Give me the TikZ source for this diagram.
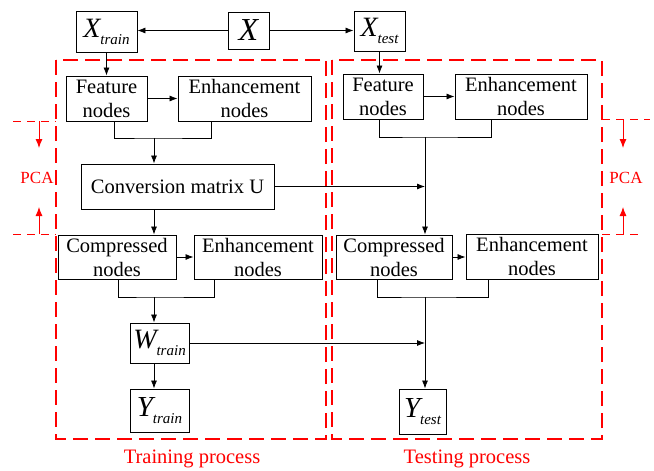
\documentclass[tikz,border=0pt]{standalone}
\usepackage{fontspec}
\setmainfont{Liberation Serif}
\usetikzlibrary{arrows.meta, calc}
\definecolor{procred}{HTML}{FF0000}
\definecolor{linecolor}{HTML}{000000}

% italic symbol with a lowered italic index
\newcommand{\symidx}[3]{{\fontsize{#1}{#1}\selectfont\itshape #2\raisebox{-7pt}{\fontsize{15}{15}\selectfont #3}}}

\begin{document}
\begin{tikzpicture}[
    x=1pt, y=-1pt,
    >={Latex[length=8pt,width=6pt]},
    line width=0.8pt,
    font=\rmfamily\fontsize{20.5}{24}\selectfont,
    block/.style={draw=linecolor, line width=0.9pt, align=center, inner sep=1pt, minimum width=#1, minimum height=45},
    block/.default=60,
    procbox/.style={draw=procred, line width=1.1pt, dash pattern=on 15pt off 7pt},
    pcaline/.style={draw=procred, line width=0.9pt, dash pattern=on 8pt off 6pt},
    pcaarrow/.style={draw=procred, fill=procred, line width=0.9pt, -{Latex[length=9pt,width=7pt]}},
    redlabel/.style={text=procred, inner sep=0pt}
]
    \useasboundingbox (0,0) rectangle (654,471);

    % Process frames
    \draw[procbox] (56,60) rectangle (326,439);
    \draw[procbox] (332,60) rectangle (602,439);
    \node[redlabel] (trainlab) at (192,459) {Training process};
    \node[redlabel] (testlab) at (467,459) {Testing process};

    % PCA marks
    \draw[pcaline] (13,121) -- (56,121);
    \draw[pcaline] (13,234) -- (56,234);
    \draw[pcaline] (602,119) -- (650,119);
    \draw[pcaline] (602,234) -- (642,234);
    \draw[pcaarrow] (39,121) -- (39,148);
    \draw[pcaarrow] (39,234) -- (39,207);
    \draw[pcaarrow] (623,119) -- (623,148);
    \draw[pcaarrow] (623,234) -- (623,207);
    \node[redlabel, font=\rmfamily\fontsize{17}{17}\selectfont] (pcaL) at (37,178) {PCA};
    \node[redlabel, font=\rmfamily\fontsize{17}{17}\selectfont] (pcaR) at (626,178) {PCA};

    % Data split
    \node[block=41, minimum height=37] (x) at (248.5,30.5) {\fontsize{32}{32}\selectfont\itshape X};
    \node[block=61, minimum height=41] (xtrain) at (106.5,31.5) {\symidx{28}{X}{train}};
    \node[block=51, minimum height=40] (xtest) at (379.5,31) {\symidx{28}{X}{test}};

    % Training side
    \node[block=81] (featL) at (106.5,98.5) {Feature\\nodes};
    \node[block=133] (enhL) at (244.5,98.5) {Enhancement\\nodes};
    \node[block=193] (conv) at (177.5,186.5) {Conversion matrix U};
    \node[block=118, minimum height=44] (compL) at (117,257) {Compressed\\nodes};
    \node[block=128, minimum height=44] (enhL2) at (258,257) {Enhancement\\nodes};
    \node[block=59, minimum height=40] (wtrain) at (159.5,343) {\symidx{28}{W}{train}};
    \node[block=59, minimum height=43] (ytrain) at (159.5,410.5) {\symidx{29}{Y}{train}};

    % Testing side
    \node[block=80] (featR) at (383,96.5) {Feature\\nodes};
    \node[block=132] (enhR) at (521,96.5) {Enhancement\\nodes};
    \node[block=116, minimum height=44] (compR) at (394,257) {Compressed\\nodes};
    \node[block=132] (enhR2) at (532,256.5) {Enhancement\\nodes};
    \node[block=47] (ytest) at (422.5,411.5) {\symidx{29}{Y}{test}};

    % Joints of the merged outputs
    \coordinate (jointL) at (154,138);
    \coordinate (jointR) at (425,137);
    \coordinate (jointL2) at (154,297);
    \coordinate (jointR2) at (425,297);

    % Split of X
    \draw[->] (x.west) -- (x.west -| xtrain.east);
    \draw[->] (x.east) -- (x.east -| xtest.west);
    \draw[->] (xtrain) -- (featL);
    \draw[->] (xtest.south) -- (xtest.south |- featR.north);

    % Training flow
    \draw[->] (featL) -- (enhL);
    \draw ([xshift=7.5pt]featL.south) |- (jointL) -| ([xshift=-33.5pt]enhL.south);
    \draw[->] (jointL) -- (jointL |- conv.north);
    \draw[->] (jointL |- conv.south) -- (jointL |- compL.north);
    \draw[->] (compL) -- (enhL2);
    \draw ([xshift=1pt]compL.south) |- (jointL2) -| ([xshift=-44pt]enhL2.south);
    \draw[->] (jointL2) -- (jointL2 |- wtrain.north);
    \draw[->] (jointL2 |- wtrain.south) -- (jointL2 |- ytrain.north);

    % Testing flow
    \draw[->] (featR) -- (enhR);
    \draw ([xshift=-4pt]featR.south) |- (jointR) -| ([xshift=-30pt]enhR.south);
    \draw[->] (jointR) -- (jointR |- compR.north);
    \draw[->] (conv.east) -- (conv.east -| jointR);
    \draw[->] (compR) -- (compR -| enhR2.west);
    \draw ([xshift=-17pt]compR.south) |- (jointR2) -| ([xshift=-44pt]enhR2.south);
    \draw[->] (jointR2) -- (jointR2 |- ytest.north);
    \draw[->] (wtrain.east) -- (wtrain.east -| jointR2);

\end{tikzpicture}
\end{document}
